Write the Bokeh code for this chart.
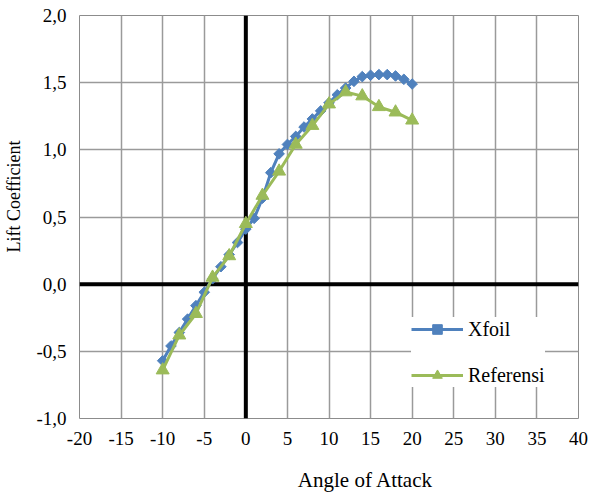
import math
from bokeh.plotting import figure
from bokeh.models import (Span, Legend, LegendItem, FixedTicker, Label,
                          CustomJSTickFormatter, Range1d)
from bokeh.embed import file_html
from bokeh.resources import INLINE

# ---- data ----
xfoil_alpha = list(range(-10, 21))
xfoil_cl = [-0.57, -0.46, -0.36, -0.26, -0.16, -0.06, 0.04, 0.13, 0.22, 0.31,
            0.41, 0.49, 0.64, 0.83, 0.97, 1.04, 1.10, 1.17, 1.23, 1.29,
            1.35, 1.41, 1.46, 1.51, 1.545, 1.555, 1.56, 1.56, 1.55, 1.525, 1.49]

ref_alpha = [-10, -8, -6, -4, -2, 0, 2, 4, 6, 8, 10, 12, 14, 16, 18, 20]
ref_cl = [-0.64, -0.38, -0.22, 0.05, 0.21, 0.45, 0.66, 0.84, 1.04, 1.18,
          1.34, 1.43, 1.40, 1.32, 1.28, 1.22]

x_ticks = list(range(-20, 41, 5))
y_ticks = [-1.0, -0.5, 0.0, 0.5, 1.0, 1.5, 2.0]

x_title = "Angle of Attack"
y_title = "Lift Coefficient"
series_names = ["Xfoil", "Referensi"]
blue = "#4F81BD"
green = "#9BBB59"
FONT = "Liberation Serif"

p = figure(width=590, height=497, output_backend="svg", toolbar_location=None,
           x_range=Range1d(-20, 40), y_range=Range1d(-1.0, 2.0),
           min_border_left=79, min_border_right=12, min_border_top=15,
           min_border_bottom=79)
p.background_fill_color = "white"
p.border_fill_color = "white"
p.outline_line_color = "#8c8c8c"
p.outline_line_width = 1

p.xaxis.ticker = FixedTicker(ticks=x_ticks)
p.yaxis.ticker = FixedTicker(ticks=y_ticks)
p.xaxis.formatter = CustomJSTickFormatter(code="return tick.toFixed(0);")
p.yaxis.formatter = CustomJSTickFormatter(code="return tick.toFixed(1).replace('.', ',');")

for ax in (p.xaxis[0], p.yaxis[0]):
    ax.axis_line_color = None
    ax.major_tick_line_color = None
    ax.minor_tick_line_color = None
    ax.major_tick_in = 0
    ax.major_tick_out = 0
    ax.minor_tick_in = 0
    ax.minor_tick_out = 0
    ax.major_label_text_font = FONT
    ax.major_label_text_font_size = "19px"
    ax.major_label_text_color = "black"
p.xaxis.major_label_standoff = 13
p.yaxis.major_label_standoff = 13

# axis titles as labels in the side panels
p.add_layout(Label(x=286, y=-8, x_units="screen", y_units="screen",
                   text=x_title, text_font=FONT, text_font_size="21px",
                   text_color="black", text_align="center",
                   text_baseline="middle"), "below")
p.add_layout(Label(x=0, y=222, x_units="screen", y_units="screen",
                   text=y_title, text_font=FONT, text_font_size="18px",
                   text_color="black", text_align="center",
                   text_baseline="middle", angle=math.pi / 2), "left")

p.xgrid.grid_line_color = "#9a9a9a"
p.ygrid.grid_line_color = "#9a9a9a"
p.xgrid.grid_line_width = 1.5
p.ygrid.grid_line_width = 1.5

# Excel-style axes crossing at zero
p.add_layout(Span(location=0, dimension="height", line_color="black",
                  line_width=4, level="underlay"))
p.add_layout(Span(location=0, dimension="width", line_color="black",
                  line_width=4, level="underlay"))

l1 = p.line(xfoil_alpha, xfoil_cl, line_color=blue, line_width=3)
s1 = p.scatter(xfoil_alpha, xfoil_cl, marker="square", angle=math.pi / 4,
               size=7.5, fill_color=blue, line_color=blue)
l2 = p.line(ref_alpha, ref_cl, line_color=green, line_width=3)
s2 = p.scatter(ref_alpha, ref_cl, marker="triangle", size=13,
               fill_color=green, line_color=green)

legend = Legend(items=[LegendItem(label=series_names[0], renderers=[l1, s1]),
                       LegendItem(label=series_names[1], renderers=[l2, s2])],
                location=(332, 31), orientation="vertical")
legend.background_fill_color = "white"
legend.background_fill_alpha = 1.0
legend.border_line_color = None
legend.label_text_font = FONT
legend.label_text_font_size = "20px"
legend.label_text_color = "black"
legend.glyph_width = 52
legend.glyph_height = 24
legend.label_height = 24
legend.label_standoff = 5
legend.spacing = 22
legend.padding = 12
legend.margin = 0
p.add_layout(legend, "center")

open("out.html", "w").write(file_html(p, INLINE))
